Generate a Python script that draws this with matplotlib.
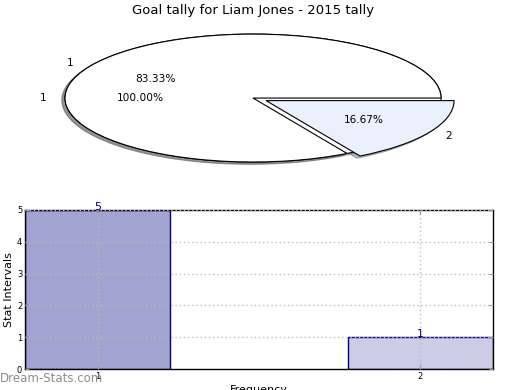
import matplotlib
matplotlib.use('Agg')
import matplotlib.pyplot as plt

# pie data
outer_vals = [100.0]
outer_labels = ['1']
inner_vals = [83.33, 16.67]
inner_labels = ['1', '2']
inner_colors = ['white', '#eaf0fc']
inner_explode = [0, 0.08]

# bar data
bar_x = [1, 2]
bar_heights = [5, 1]
bar_colors = ['#a1a3d0', '#cbcce5']
bar_ticks = ['1', '2']

title = 'Goal tally for Liam Jones - 2015 tally'

fig = plt.figure(figsize=(5.2, 3.9), dpi=100)

ax1 = fig.add_axes([0.0346, 0.5436, 0.904, 0.41])
wp = {'edgecolor': 'black', 'linewidth': 0.8}
tp = {'fontsize': 7.6}
shd = {'ox': -0.012, 'oy': -0.025, 'shade': 0.55}
ax1.pie(outer_vals, labels=outer_labels, colors=['white'], autopct='%.2f%%',
        shadow=shd, wedgeprops=wp, textprops=tp)
ax1.pie(inner_vals, labels=inner_labels, colors=inner_colors, autopct='%.2f%%',
        explode=inner_explode, shadow=shd, wedgeprops=wp, textprops=tp)
ax1.set_aspect('auto')
ax1.set_xlim(-1.25, 1.25)
ax1.set_ylim(-1.25, 1.25)
ax1.set_title(title, fontsize=9.5, pad=3)

ax2 = fig.add_axes([0.048, 0.0538, 0.9, 0.408])
ax2.bar(bar_x, bar_heights, width=0.45, color=bar_colors,
        edgecolor='#000080', linewidth=1, zorder=2)
for x, h in zip(bar_x, bar_heights):
    ax2.text(x, h, str(h), ha='center', va='baseline', fontsize=8,
             color='#000080', zorder=4, clip_on=False)
ax2.set_xlim(0.775, 2.225)
ax2.set_ylim(0, 5)
ax2.set_xticks(bar_x)
ax2.set_xticklabels(bar_ticks)
ax2.set_yticks(range(0, 6))
ax2.tick_params(direction='in', length=3, color='#999999', labelsize=6, pad=2,
                right=True, top=True)
ax2.grid(True, linestyle=(0, (1, 2)), color='#bbbbbb', linewidth=1, zorder=3)
ax2.set_axisbelow(False)
ax2.set_ylabel('Stat Intervals', fontsize=8, labelpad=2)
ax2.set_xlabel('Frequency', fontsize=8, labelpad=3)
for sp in ax2.spines.values():
    sp.set_linewidth(1)

fig.text(0.0, 0.012, 'Dream-Stats.com', fontsize=8.5, color='#8c8c8c',
         ha='left', va='bottom')

fig.savefig('out.png', dpi=100)
